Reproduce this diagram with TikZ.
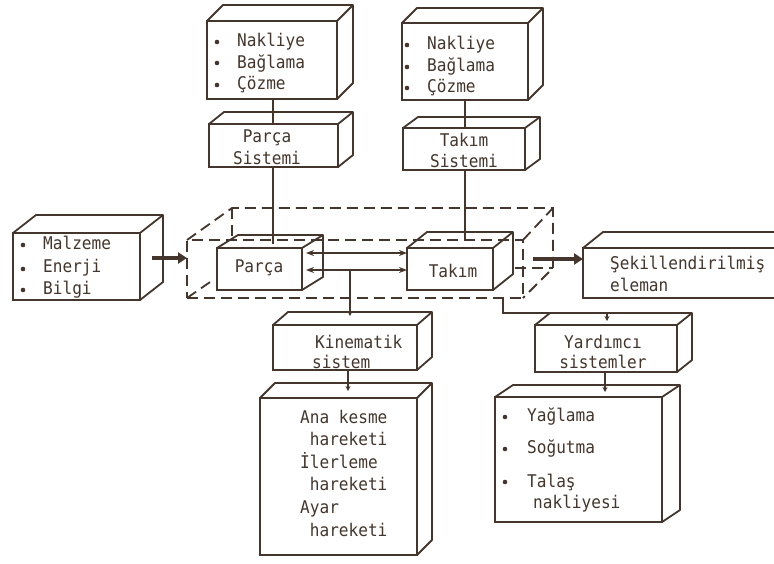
\documentclass[tikz,border=0pt]{standalone}
\usepackage{fontspec}
\setmonofont[FakeStretch=0.92]{DejaVu Sans Mono}
\usetikzlibrary{calc,arrows.meta}
\definecolor{ink}{RGB}{68,54,44}
\newcommand\diagfont{\ttfamily\fontsize{17.5pt}{21.5pt}\selectfont}
\newcommand\cubeface[3]{%
  \draw[boxline] (#1.north west) -- ++(#2,#3) -- ($(#1.north east)+(#2,#3)$) -- ($(#1.south east)+(#2,#3)$) -- (#1.south east);
  \draw[boxline] (#1.north east) -- ++(#2,#3);}
\tikzset{
  boxline/.style={draw=ink, line width=1.8pt, line join=round},
  box/.style={draw=ink, line width=1.8pt, inner sep=0pt, outer sep=0pt},
  txt/.style={font=\diagfont, text=ink, inner sep=0pt, align=left},
  ctxt/.style={font=\diagfont, text=ink, inner sep=0pt, align=center},
  dash box/.style={draw=ink, line width=1.8pt, dash pattern=on 11pt off 6pt},
  conn/.style={draw=ink, line width=1.5pt},
  dbl/.style={draw=ink, line width=1.5pt, {Stealth[length=8pt,width=6pt]}-{Stealth[length=8pt,width=6pt]}},
  small tip/.style={draw=ink, line width=1.5pt, -{Stealth[length=5pt,width=5pt]}},
  thick arrow/.style={draw=ink, line width=3.6pt, -{Triangle[length=9pt,width=11pt]}},
  bul/.style={fill=ink}
}
\begin{document}
\begin{tikzpicture}[x=1pt,y=-1pt]
\clip (0,0) rectangle (774,563);
\fill[white] (0,0) rectangle (774,563);

% ---------- dashed system box ----------
\node[dash box, inner sep=0pt, outer sep=0pt, minimum width=336pt, minimum height=58pt] (sys) at (355,269) {};
\draw[dash box] (187,240) -- (232,208) -- (553,208) -- (553,268) -- (523,298);
\draw[dash box] (523,240) -- (553,208);
\draw[dash box] (232,208) -- (232,240);
\draw[dash box] (515,268) -- (553,268);
\draw[dash box] (187,298) -- (213,280);

% ---------- boxes ----------
\node[box, minimum width=130pt, minimum height=78pt] (NakP) at (272,60) {};
\cubeface{NakP}{16}{-16}
\node[box, minimum width=126pt, minimum height=77pt] (NakT) at (465,61.5) {};
\cubeface{NakT}{15}{-15}
\node[box, minimum width=129pt, minimum height=43pt] (PSys) at (273.5,145.5) {};
\cubeface{PSys}{15}{-12}
\node[box, minimum width=122pt, minimum height=42pt] (TSys) at (464,149) {};
\cubeface{TSys}{15}{-11}
\node[box, minimum width=85pt, minimum height=42pt] (Parca) at (259.5,269) {};
\cubeface{Parca}{21}{-13}
\node[box, minimum width=86pt, minimum height=42pt] (Takim) at (450,269) {};
\cubeface{Takim}{20}{-16}
\node[box, minimum width=127pt, minimum height=67pt] (Input) at (76.5,266.5) {};
\cubeface{Input}{23}{-18}
\node[box, minimum width=207pt, minimum height=50pt] (Output) at (686.5,273) {};
\cubeface{Output}{20}{-16}
\node[box, minimum width=144pt, minimum height=45pt] (Kin) at (345,347.5) {};
\cubeface{Kin}{15}{-13}
\node[box, minimum width=157pt, minimum height=157pt] (KinList) at (338.5,476.5) {};
\cubeface{KinList}{15}{-15}
\node[box, minimum width=142pt, minimum height=47pt] (Yard) at (606,348.5) {};
\cubeface{Yard}{15}{-12}
\node[box, minimum width=167pt, minimum height=125pt] (YardList) at (578.5,459.5) {};
\cubeface{YardList}{18}{-12}

% ---------- texts ----------
\foreach \y in {42,63,85} \fill[bul] (217,\y) circle (2.3pt);
\node[txt, anchor=west] (tNakP) at (237,63) {Nakliye\\Bağlama\\Çözme};
\foreach \y in {45,67,88} \fill[bul] (407,\y) circle (2.3pt);
\node[txt, anchor=west] (tNakT) at (427,66) {Nakliye\\Bağlama\\Çözme};
\node[ctxt] (tPSys) at (267,147) {Parça\\Sistemi};
\node[ctxt] (tTSys) at (464,150.5) {Takım\\Sistemi};
\node[ctxt] (tParca) at (259,268) {Parça};
\node[ctxt] (tTakim) at (453,271) {Takım};
\foreach \y in {245,269,290} \fill[bul] (23,\y) circle (2.3pt);
\node[txt, anchor=west, font=\ttfamily\fontsize{17.5pt}{22.5pt}\selectfont] (tInput) at (43,267.5) {Malzeme\\Enerji\\Bilgi};
\node[txt, anchor=west, font=\ttfamily\fontsize{17.5pt}{22pt}\selectfont] (tOutput) at (610,273.5) {Şekillendirilmiş\\eleman};
\node[txt, anchor=west, font=\ttfamily\fontsize{17.5pt}{20pt}\selectfont] (tKin) at (312,351.5) {\hspace{3pt}Kinematik\\sistem};
\node[txt, anchor=west, font=\ttfamily\fontsize{17.5pt}{22.6pt}\selectfont] (tKinList) at (300,473)
  {Ana kesme\\\hspace{9.7pt}hareketi\\İlerleme\\\hspace{9.7pt}hareketi\\Ayar\\\hspace{9.7pt}hareketi};
\node[ctxt, font=\ttfamily\fontsize{17.5pt}{20pt}\selectfont] (tYard) at (603,351.5) {Yardımcı\\sistemler};
\foreach \y in {417,449,482} \fill[bul] (505,\y) circle (2.3pt);
\node[txt, anchor=west] (tY1) at (527,417) {Yağlama};
\node[txt, anchor=west] (tY2) at (527,449) {Soğutma};
\node[txt, anchor=west] (tY3) at (527,482) {Talaş};
\node[txt, anchor=west] (tY4) at (533,504) {nakliyesi};

% ---------- connectors ----------
\draw[conn] (NakP.south -| 273,0) -- (PSys.north -| 273,0);
\draw[conn] (PSys.south -| 273,0) -- ($(Parca.north -| 273,0)+(0,-4)$);
\draw[conn] (NakT.south -| 465,0) -- (TSys.north -| 465,0);
\draw[conn] (TSys.south -| 465,0) -- ($(Takim.north -| 465,0)+(0,-8)$);
\draw[dbl] ([xshift=4pt,yshift=16pt]Parca.east) -- ([yshift=16pt]Takim.west);
\draw[dbl] ([xshift=4pt,yshift=-1pt]Parca.east) -- ([yshift=-1pt]Takim.west);
\coordinate (j1) at (350,270);
\draw[small tip] (j1) -- ($(j1 |- Kin.north)+(0,-9)$);
\draw[small tip] (Kin.south -| 348,0) -- ($(KinList.north -| 348,0)+(0,-7)$);
\coordinate (j2) at (503,298);
\draw[small tip] (j2) -- (503,313) -- (607,313) -- ($(Yard.north -| 607,0)+(0,-4)$);
\draw[small tip] (Yard.south -| 605,0) -- ($(YardList.north -| 605,0)+(0,-5)$);
\draw[thick arrow] ([xshift=12pt,yshift=8.5pt]Input.east) -- ([yshift=11pt]sys.west);
\draw[thick arrow] ([xshift=10pt,yshift=10pt]sys.east) -- ([yshift=14pt]Output.west);
\end{tikzpicture}
\end{document}
